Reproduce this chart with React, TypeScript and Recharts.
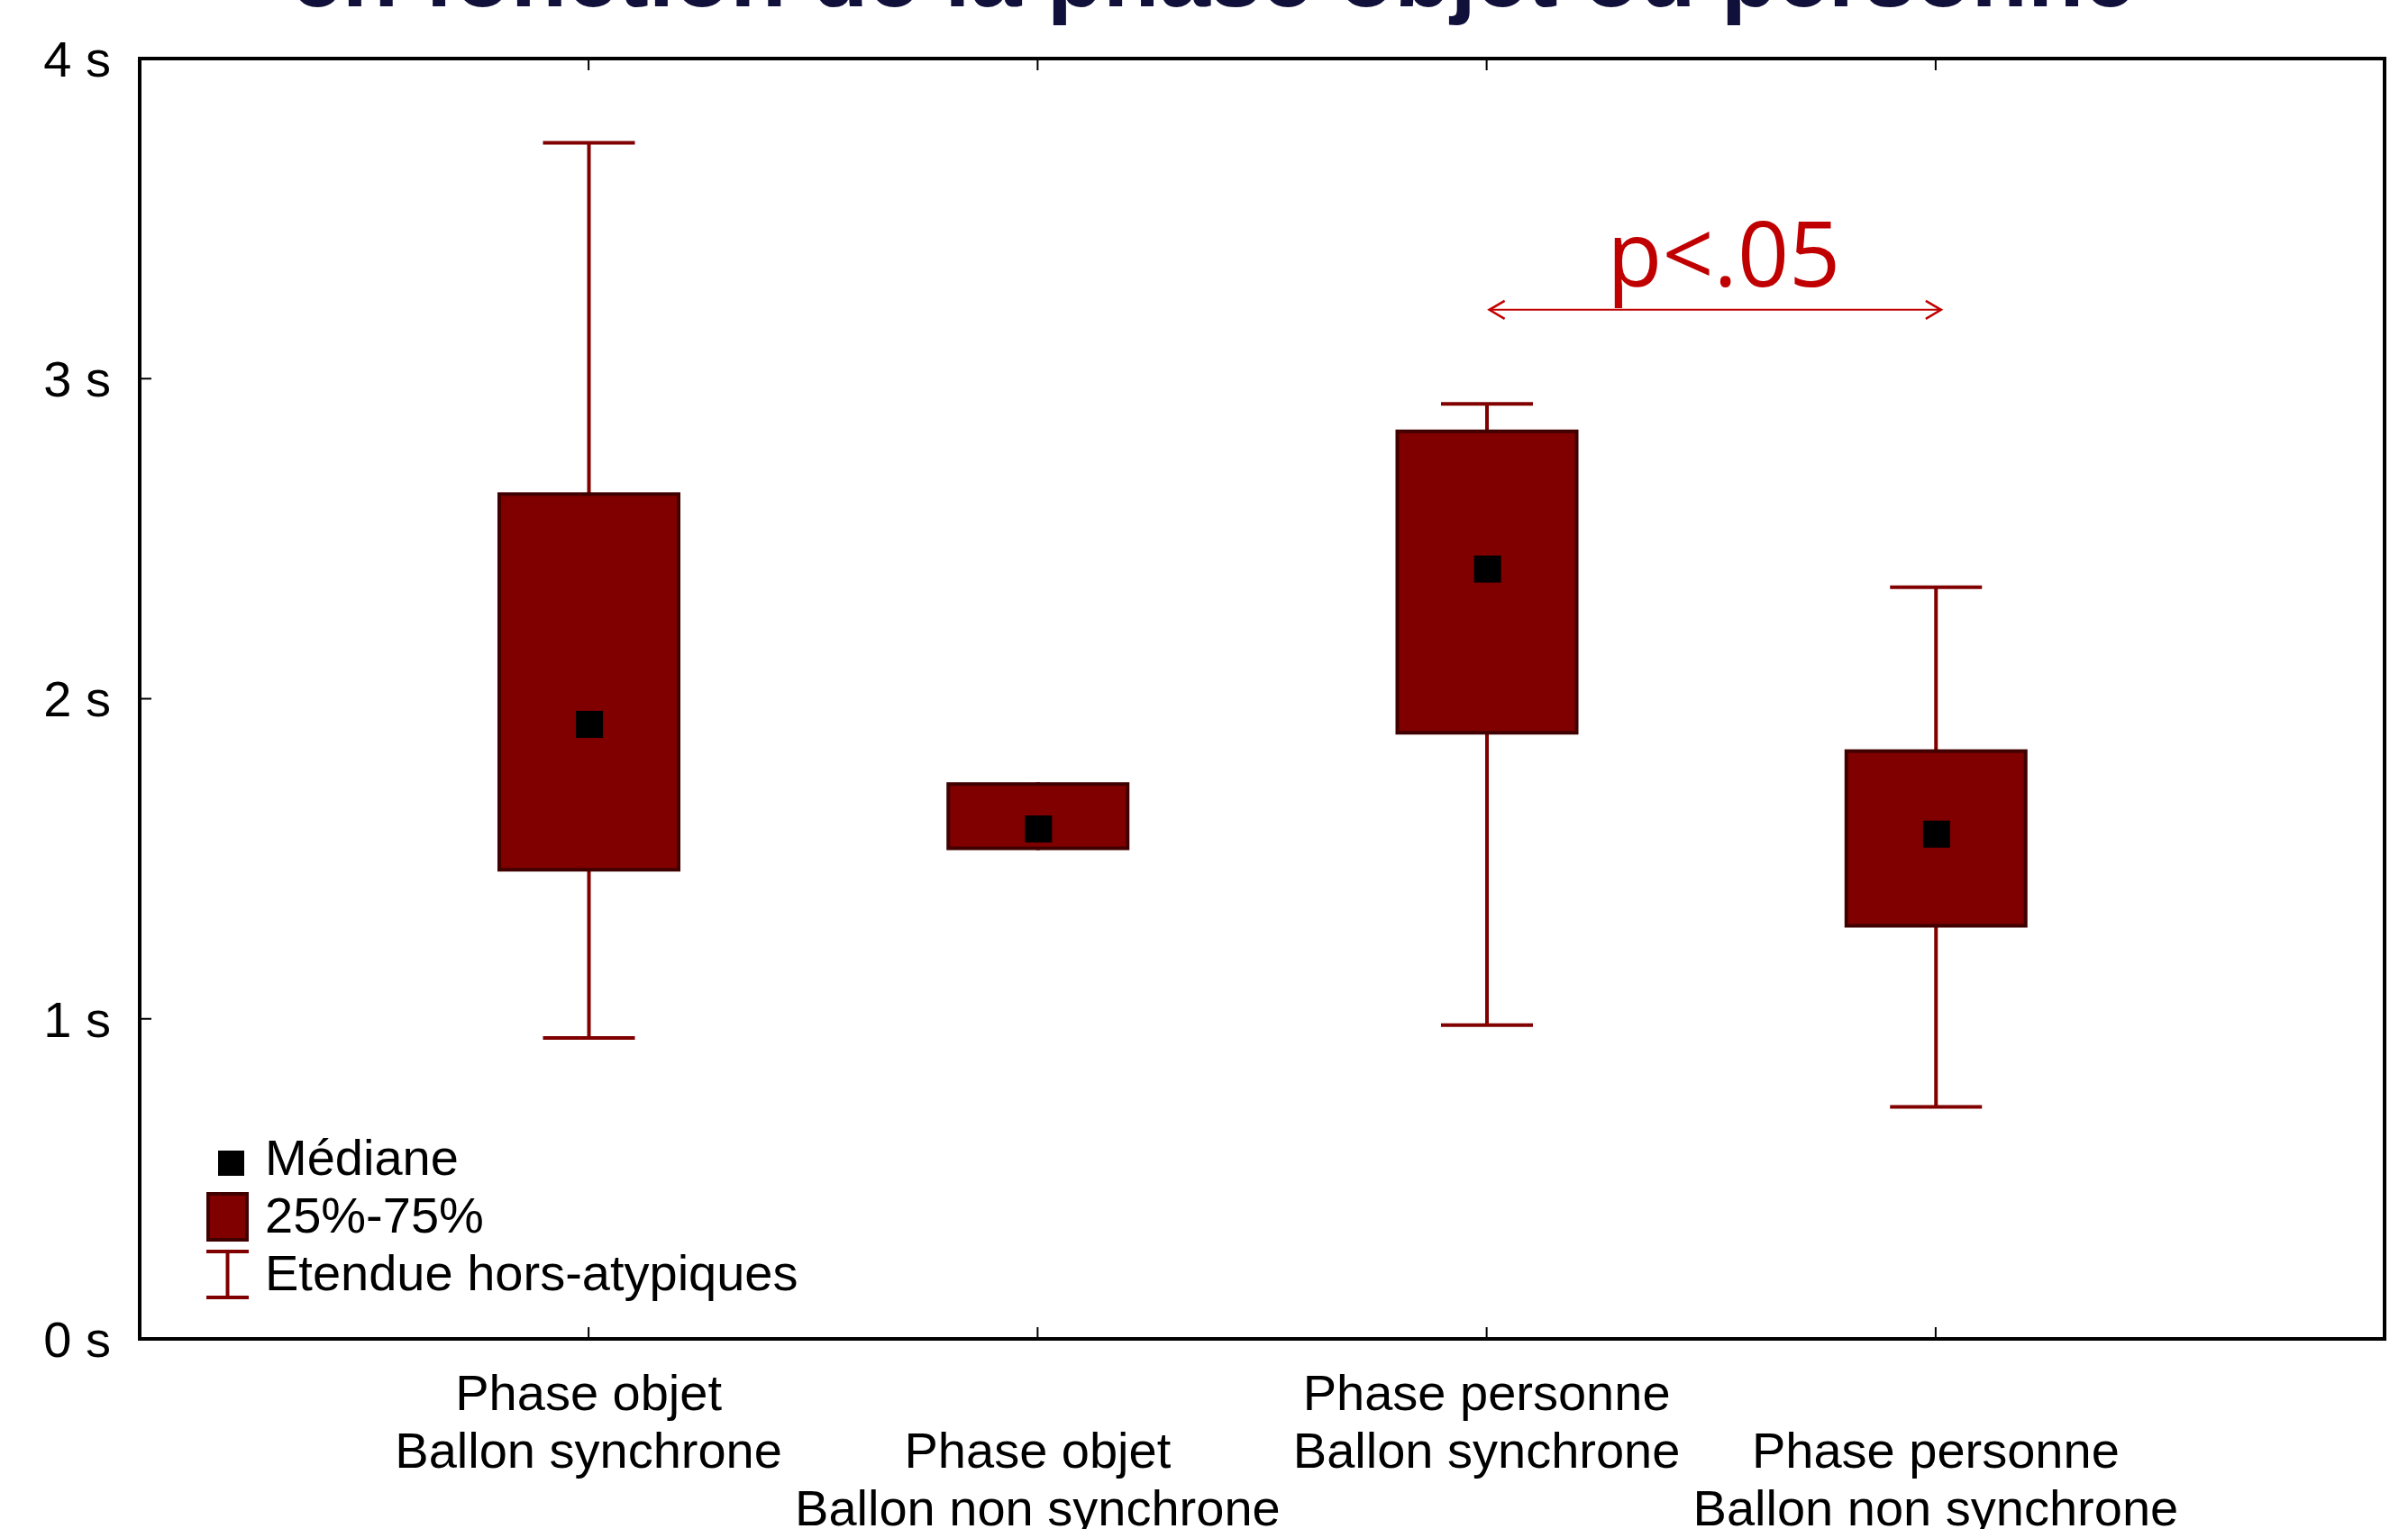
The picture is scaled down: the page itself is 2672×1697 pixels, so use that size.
import React from 'react';
import {
  ComposedChart,
  Bar,
  Scatter,
  XAxis,
  YAxis,
  ReferenceLine,
  Legend,
} from 'recharts';

// ---------------- data ----------------
const phaseLabels = ['Phase objet', 'Phase objet', 'Phase personne', 'Phase personne'];
const ballonLabels = ['Ballon synchrone', 'Ballon non synchrone', 'Ballon synchrone', 'Ballon non synchrone'];

const minValues = [0.94, 1.527, 0.98, 0.725];
const q1Values = [1.46, 1.527, 1.888, 1.285];
const medianValues = [1.92, 1.593, 2.405, 1.577];
const q3Values = [2.645, 1.739, 2.841, 1.842];
const maxValues = [3.737, 1.739, 2.921, 2.348];

const yTicks = [0, 1, 2, 3, 4];
const yUnit = ' s';

const titleText = 'en fonction de la phase objet ou personne';
const legendLabels = ['Médiane', '25%-75%', 'Etendue hors-atypiques'];

const sigFromIndex = 2;
const sigToIndex = 3;
const sigY = 3.215;
const sigLabel = 'p<.05';

// ---------------- derived table ----------------
const categoryKeys = phaseLabels.map((p, i) => `${p} – ${ballonLabels[i]}`);
const data = categoryKeys.map((key, i) => ({
  key,
  min: minValues[i],
  q1: q1Values[i],
  median: medianValues[i],
  q3: q3Values[i],
  max: maxValues[i],
}));

// ---------------- styles ----------------
const W = 2672;
const H = 1697;
const DARK_RED = '#800000';
const BOX_BORDER = '#400000';
const SIG_RED = '#C00000';
const FONT = '"Liberation Sans", Arial, Helvetica, sans-serif';
const FS = 56;
const BOX_W = 203;
const CAP_HALF = 51;

function WhiskerShape(props: any) {
  const { x, y, width, height, payload } = props;
  if (![x, y, width, height].every((v) => Number.isFinite(v))) return null;
  const top = Math.min(y, y + height);
  const bottom = Math.max(y, y + height);
  const cx = x + width / 2;
  const showTop = !payload || payload.max > payload.q3;
  const showBottom = !payload || payload.min < payload.q1;
  return (
    <g>
      <line x1={cx} x2={cx} y1={top} y2={bottom} stroke={DARK_RED} strokeWidth={4} />
      {showTop && (
        <line x1={cx - CAP_HALF} x2={cx + CAP_HALF} y1={top} y2={top} stroke={DARK_RED} strokeWidth={4} />
      )}
      {showBottom && (
        <line x1={cx - CAP_HALF} x2={cx + CAP_HALF} y1={bottom} y2={bottom} stroke={DARK_RED} strokeWidth={4} />
      )}
    </g>
  );
}

function BoxShape(props: any) {
  const { x, y, width, height } = props;
  if (![x, y, width, height].every((v) => Number.isFinite(v))) return null;
  const top = Math.min(y, y + height);
  const h = Math.abs(height);
  return (
    <rect
      x={x + 2}
      y={top + 2}
      width={Math.max(width - 4, 0)}
      height={Math.max(h - 4, 0)}
      fill={DARK_RED}
      stroke={BOX_BORDER}
      strokeWidth={4}
    />
  );
}

function MedianShape(props: any) {
  const { cx, cy } = props;
  if (!Number.isFinite(cx) || !Number.isFinite(cy)) return null;
  return <rect x={cx - 14} y={cy - 15} width={30} height={30} fill="#000" />;
}

function CategoryTick(props: any) {
  const { x, y, payload } = props;
  const idx = categoryKeys.indexOf(payload.value);
  if (idx < 0) return null;
  const shift = idx % 2 === 1 ? 64 : 0;
  return (
    <g>
      <text x={x} y={y + 59 + shift} textAnchor="middle" fontSize={FS} fill="#000" fontFamily={FONT}>
        {phaseLabels[idx]}
      </text>
      <text x={x} y={y + 123 + shift} textAnchor="middle" fontSize={FS} fill="#000" fontFamily={FONT}>
        {ballonLabels[idx]}
      </text>
    </g>
  );
}

function EmptyTick() {
  return <g />;
}

function SigArrow(props: any) {
  const { x1, y1, x2, y2 } = props;
  if (![x1, y1, x2, y2].every((v) => Number.isFinite(v))) return null;
  const head = 17;
  const half = 10;
  return (
    <g>
      <line x1={x1 + 3} y1={y1} x2={x2 + 6} y2={y2} stroke={SIG_RED} strokeWidth={2} />
      <polyline
        points={`${x1 + 3 + head},${y1 - half} ${x1 + 3},${y1} ${x1 + 3 + head},${y1 + half}`}
        fill="none"
        stroke={SIG_RED}
        strokeWidth={2.5}
      />
      <polyline
        points={`${x2 + 6 - head},${y2 - half} ${x2 + 6},${y2} ${x2 + 6 - head},${y2 + half}`}
        fill="none"
        stroke={SIG_RED}
        strokeWidth={2.5}
      />
      <text
        x={(x1 + x2) / 2 + 14}
        y={y1 - 26}
        textAnchor="middle"
        fontSize={100}
        fill={SIG_RED}
        fontFamily='"Open Sans", "Noto Sans", sans-serif'
      >
        {sigLabel}
      </text>
    </g>
  );
}

function LegendContent() {
  return (
    <svg width={420} height={200} style={{ display: 'block', overflow: 'visible' }}>
      <rect x={22} y={22} width={29} height={28} fill="#000" />
      <rect x={11} y={70} width={43} height={51} fill={DARK_RED} stroke={BOX_BORDER} strokeWidth={4} />
      <line x1={32.5} x2={32.5} y1={134} y2={185} stroke={DARK_RED} strokeWidth={4} />
      <line x1={9} x2={56} y1={134} y2={134} stroke={DARK_RED} strokeWidth={4} />
      <line x1={9} x2={56} y1={185} y2={185} stroke={DARK_RED} strokeWidth={4} />
      {legendLabels.map((lab, i) => (
        <text key={lab} x={74} y={49 + i * 64} fontSize={FS} fill="#000" fontFamily={FONT}>
          {lab}
        </text>
      ))}
    </svg>
  );
}

const axisLineStyle = { stroke: '#000', strokeWidth: 4, strokeLinecap: 'square' as const };
const tickLineStyle = { stroke: '#000', strokeWidth: 2 };

export default function App() {
  return (
    <div
      style={{
        position: 'absolute',
        left: 0,
        top: 0,
        width: W,
        height: H,
        background: '#fff',
        fontFamily: FONT,
        overflow: 'hidden',
      }}
    >
      <ComposedChart
        width={W}
        height={H}
        data={data}
        margin={{ top: 0, right: 0, bottom: 0, left: 0 }}
      >
        <XAxis
          dataKey="key"
          type="category"
          xAxisId={0}
          orientation="bottom"
          height={211}
          padding={{ left: 249, right: 249 }}
          axisLine={axisLineStyle}
          tickLine={tickLineStyle}
          tickSize={-13}
          tickMargin={33}
          interval={0}
          tick={<CategoryTick />}
        />
        <XAxis
          dataKey="key"
          type="category"
          xAxisId="top"
          orientation="top"
          height={65}
          padding={{ left: 249, right: 249 }}
          axisLine={axisLineStyle}
          tickLine={tickLineStyle}
          tickSize={-13}
          interval={0}
          tick={<EmptyTick />}
        />
        <YAxis
          yAxisId={0}
          type="number"
          orientation="left"
          width={155}
          domain={[0, 4]}
          ticks={yTicks}
          interval={0}
          tickFormatter={(v: number) => `${v}${yUnit}`}
          axisLine={axisLineStyle}
          tickLine={tickLineStyle}
          tickSize={-13}
          tickMargin={45}
          tick={{ fill: '#000', fontSize: FS, fontFamily: FONT }}
        />
        <YAxis
          yAxisId="right"
          type="number"
          orientation="right"
          width={26}
          domain={[0, 4]}
          ticks={yTicks}
          interval={0}
          axisLine={axisLineStyle}
          tickLine={tickLineStyle}
          tickSize={-13}
          tick={<EmptyTick />}
        />
        <Legend
          layout="vertical"
          align="center"
          verticalAlign="middle"
          content={<LegendContent />}
          wrapperStyle={{ left: 220, top: 1255, width: 420, height: 200 }}
        />
        <Bar
          name={legendLabels[2]}
          xAxisId="top"
          yAxisId={0}
          dataKey={(d: any) => [d.min, d.max]}
          barSize={BOX_W}
          shape={<WhiskerShape />}
          isAnimationActive={false}
        />
        <Bar
          name={legendLabels[1]}
          xAxisId={0}
          yAxisId={0}
          dataKey={(d: any) => [d.q1, d.q3]}
          barSize={BOX_W}
          shape={<BoxShape />}
          isAnimationActive={false}
        />
        <Scatter
          name={legendLabels[0]}
          xAxisId={0}
          yAxisId={0}
          dataKey="median"
          shape={<MedianShape />}
          isAnimationActive={false}
        />
        <ReferenceLine
          xAxisId={0}
          yAxisId={0}
          segment={[
            { x: categoryKeys[sigFromIndex], y: sigY },
            { x: categoryKeys[sigToIndex], y: sigY },
          ]}
          shape={<SigArrow />}
          ifOverflow="visible"
        />
      </ComposedChart>
      <svg
        width={W}
        height={80}
        style={{ position: 'absolute', left: 0, top: 0, pointerEvents: 'none' }}
      >
        <text
          x={1346}
          y={7}
          textAnchor="middle"
          fontSize={102}
          fontWeight="bold"
          fill="#10103a"
          fontFamily={FONT}
        >
          {titleText}
        </text>
      </svg>
    </div>
  );
}
